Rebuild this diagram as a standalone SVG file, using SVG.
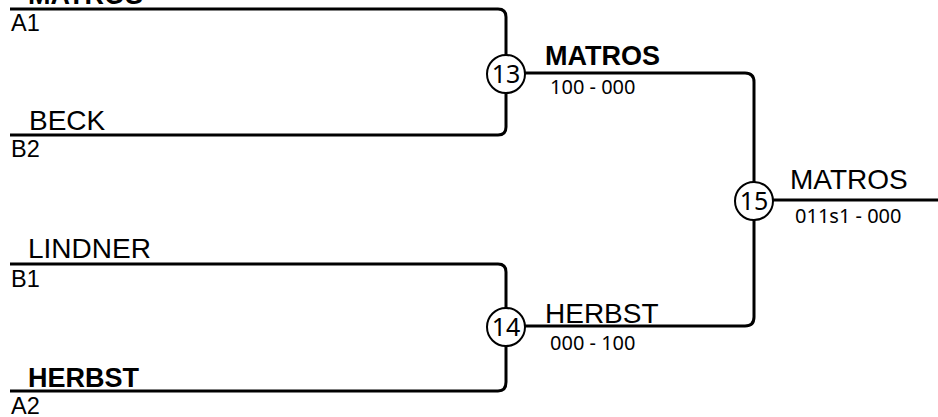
<svg xmlns="http://www.w3.org/2000/svg" width="938" height="417" viewBox="0 0 938 417">
<style>
.ln{fill:none;stroke:#000;stroke-width:3}
.c{fill:#fff;stroke:#000;stroke-width:2}
.nm{font-family:"Liberation Sans",Arial,sans-serif;font-size:28px;fill:#000}
.b{font-weight:bold;font-size:27px}
.pos{font-family:"Liberation Sans",Arial,sans-serif;font-size:23.5px;fill:#000}
.sc{font-family:"Noto Sans","Open Sans",sans-serif;font-size:20px;fill:#000}
.num{font-family:"Noto Sans","Open Sans",sans-serif;font-size:25px;fill:#000;text-anchor:middle}
</style>
<rect width="938" height="417" fill="#fff"/>
<g id="connectors">
<path class="ln" d="M10 9 H498 Q506 9 506 17 V127 Q506 135 498 135 H10"/>
<path class="ln" d="M10 264 H498 Q506 264 506 272 V382 Q506 391 498 391 H10"/>
<path class="ln" d="M506 73 H745 Q754 73 754 82 V317 Q754 326 745 326 H506"/>
<path class="ln" d="M754 200 H938"/>
</g>
<g id="p-matros">
<text class="nm b" x="28" y="3.5">MATROS</text>
<text class="pos" x="11" y="30.5">A1</text>
</g>
<g id="p-beck">
<text class="nm" x="29" y="130">BECK</text>
<text class="pos" x="11" y="157">B2</text>
</g>
<g id="p-lindner">
<text class="nm" x="28" y="258">LINDNER</text>
<text class="pos" x="11" y="286.5">B1</text>
</g>
<g id="p-herbst">
<text class="nm b" x="28" y="386.5">HERBST</text>
<text class="pos" x="11" y="414">A2</text>
</g>
<g id="m13">
<circle class="c" cx="506" cy="74" r="19"/>
<text class="num" x="506" y="83">13</text>
<text class="nm b" x="545" y="65">MATROS</text>
<text class="sc" x="550" y="94">100 - 000</text>
</g>
<g id="m14">
<circle class="c" cx="506" cy="327" r="19"/>
<text class="num" x="506" y="336">14</text>
<text class="nm" x="545" y="323">HERBST</text>
<text class="sc" x="550" y="350">000 - 100</text>
</g>
<g id="m15">
<circle class="c" cx="754" cy="201" r="19"/>
<text class="num" x="754" y="210">15</text>
<text class="nm" x="790" y="189">MATROS</text>
<text class="sc" x="795" y="223">011s1 - 000</text>
</g>
</svg>
